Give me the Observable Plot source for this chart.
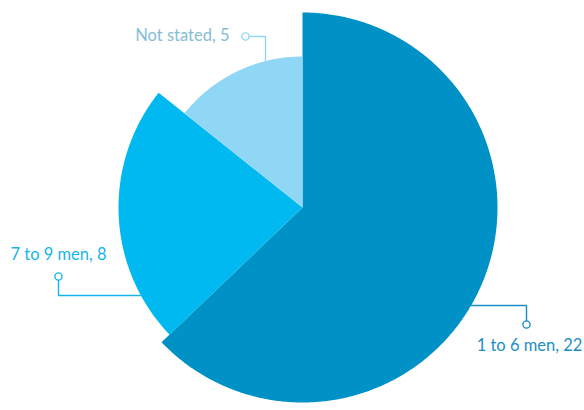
<!DOCTYPE html>
<html>
<head>
<meta charset="utf-8">
<script src="https://cdn.jsdelivr.net/npm/d3@7"></script>
<script src="https://cdn.jsdelivr.net/npm/@observablehq/plot@0.6"></script>
<style>
  html, body { margin: 0; padding: 0; background: #ffffff; }
  #chart { width: 584px; height: 410px; }
</style>
</head>
<body>
<div id="chart"></div>
<script>
// ---- data ----
const categories = ["1 to 6 men", "7 to 9 men", "Not stated"];
const values = [22, 8, 5];
const labels = ["1 to 6 men, 22", "7 to 9 men, 8", "Not stated, 5"];

// ---- styles / layout (not data) ----
const sliceColors = ["#0091c7", "#00b9f0", "#90d7f6"];
const labelColors = ["#1b8ec4", "#16b4ea", "#85bdd7"];
const lineColors  = ["#1b8ec4", "#16b4ea", "#90d7f6"];
const sliceRadius = [195, 184, 151];   // chart units (1 unit ~ 1px)
// leader layout: horizontal ("h") or vertical ("v") first segment from the slice edge
const leaderLayout = [
  {dir: "h", at: -98, cx: 224, cy: -117, tx: 227, ty: -138.5, anchor: "middle"},
  {dir: "h", at: -88, cx: -244, cy: -69, tx: -244, ty: -47, anchor: "middle"},
  {dir: "v", at: -37, cx: -57, cy: 171, tx: -73, ty: 172, anchor: "end"}
];

// ---- build slices from values ----
const arcs = d3.pie().sort(null).value(d => d)(values);
const slicePts = [];
arcs.forEach((a, i) => {
  const r = sliceRadius[i];
  slicePts.push({cat: categories[i], x: 0, y: 0});
  const n = Math.max(8, Math.ceil((a.endAngle - a.startAngle) / (Math.PI / 360)));
  for (let k = 0; k <= n; k++) {
    const t = a.startAngle + (a.endAngle - a.startAngle) * k / n;
    slicePts.push({cat: categories[i], x: r * Math.sin(t), y: r * Math.cos(t)});
  }
});

// ---- leaders ----
const leaderMarks = [];
leaderLayout.forEach((L, i) => {
  const r = sliceRadius[i];
  let pts;
  if (L.dir === "h") {
    const ex = Math.sign(L.cx) * Math.sqrt(r * r - L.at * L.at);
    pts = [{x: ex, y: L.at}, {x: L.cx, y: L.at}, {x: L.cx, y: L.cy}];
  } else {
    const ey = Math.sign(L.cy) * Math.sqrt(r * r - L.at * L.at);
    pts = [{x: L.at, y: ey}, {x: L.at, y: L.cy}, {x: L.cx, y: L.cy}];
  }
  leaderMarks.push(Plot.line(pts, {x: "x", y: "y", stroke: lineColors[i], strokeWidth: 1.4}));
  leaderMarks.push(Plot.dot([{x: L.cx, y: L.cy}], {x: "x", y: "y", r: 3.6, fill: "white", stroke: lineColors[i], strokeWidth: 1.4}));
  leaderMarks.push(Plot.text([{x: L.tx, y: L.ty, t: labels[i]}], {
    x: "x", y: "y", text: "t", fill: labelColors[i], fontSize: 16.5,
    textAnchor: L.anchor, lineAnchor: "middle"
  }));
});

const chart = Plot.plot({
  width: 584,
  height: 410,
  margin: 0,
  x: {domain: [-302, 282], axis: null},
  y: {domain: [-203, 207], axis: null},
  color: {domain: categories, range: sliceColors},
  style: {fontFamily: "Lato, 'Noto Sans', sans-serif", background: "#ffffff"},
  marks: [
    Plot.line(slicePts, {x: "x", y: "y", z: "cat", fill: "cat", stroke: "none", curve: "linear-closed"}),
    ...leaderMarks
  ]
});
document.getElementById("chart").appendChild(chart);
</script>
</body>
</html>
